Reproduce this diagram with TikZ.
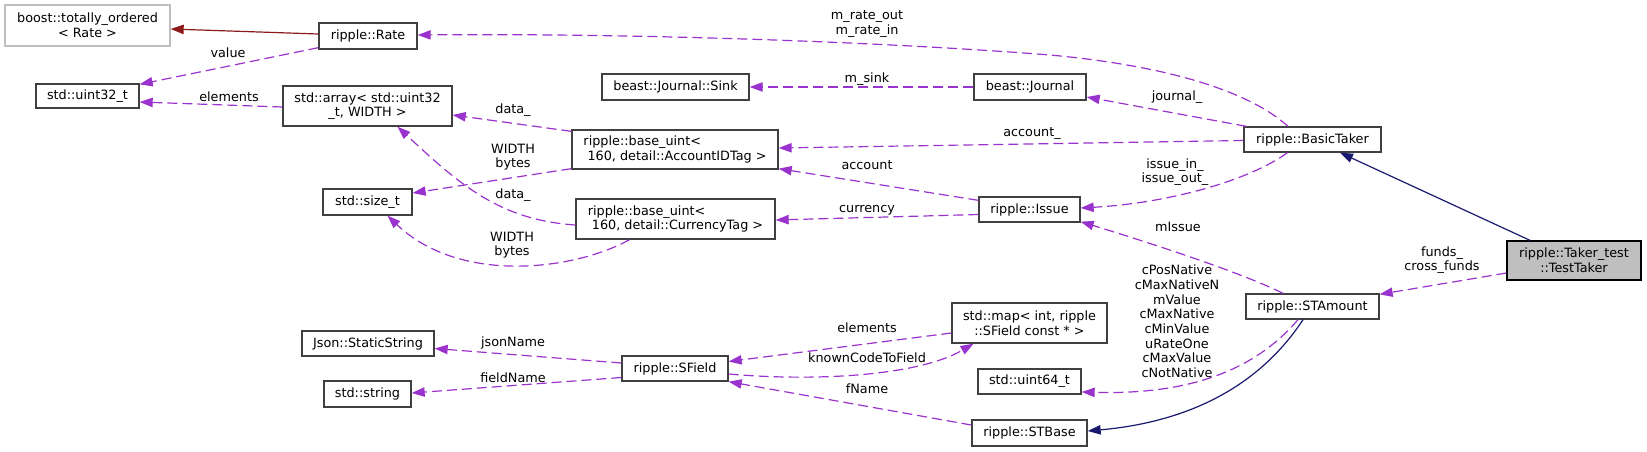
\documentclass[tikz,border=0pt]{standalone}
\usepackage{fontspec}
\setmainfont{DejaVu Sans}
\usetikzlibrary{arrows.meta,calc}
\definecolor{edgep}{HTML}{9A32CD}
\definecolor{navyc}{HTML}{191970}
\definecolor{redc}{HTML}{8B1A1A}
\definecolor{nodegray}{HTML}{404040}
\definecolor{lightb}{HTML}{BFBFBF}
\definecolor{fillsel}{HTML}{BFBFBF}
\newcommand\mybox[7][]{\node[box,#1,minimum width={(#4-#2)*0.75pt},minimum height={(#5-#3)*0.75pt}] (#6) at ({(#2+#4)/2},{(#3+#5)/2}) {#7};}
\begin{document}
\begin{tikzpicture}[x=0.75pt,y=-0.75pt,
  font=\fontsize{9.6}{11}\selectfont,
  box/.style={draw=nodegray, line width=1pt, fill=white, inner sep=0pt, align=center},
  tipA/.tip={Triangle[length=9.75pt,width=7pt]},
  mem/.style={draw=edgep, line width=0.9pt, dash pattern=on 7.5pt off 3.75pt, -{tipA[fill=edgep]}},
  inhn/.style={draw=navyc, line width=0.9pt, -{tipA[fill=navyc]}},
  inhr/.style={draw=redc, line width=0.9pt, -{tipA[fill=redc]}},
  lbl/.style={align=center, inner sep=0pt}]
\useasboundingbox (0,0) rectangle (1647,451);
% nodes
\mybox[draw=lightb]{5}{5}{170}{46}{boost}{boost::totally\_ordered\\< Rate >}
\mybox{319}{23}{417}{49}{Rate}{ripple::Rate}
\mybox{36}{84}{139}{108}{uintA}{std::uint32\_t}
\mybox{283}{86}{452}{126}{array}{std::array< std::uint32\\\_t, WIDTH >}
\mybox{602}{74}{749}{100}{Sink}{beast::Journal::Sink}
\mybox{974}{74}{1086}{100}{Journal}{beast::Journal}
\mybox[align=left]{572}{130}{778}{169}{AccountID}{ripple::base\_uint<\\\ 160, detail::AccountIDTag >}
\mybox{1244}{127}{1381}{152}{BasicTaker}{ripple::BasicTaker}
\mybox{323}{189}{412}{215}{sizet}{std::size\_t}
\mybox[align=left]{576}{199}{775}{239}{Currency}{ripple::base\_uint<\\\ 160, detail::CurrencyTag >}
\mybox{979}{197}{1080}{222}{Issue}{ripple::Issue}
\mybox[draw=black,fill=fillsel]{1507}{241}{1641}{280}{TestTaker}{ripple::Taker\_test\\::TestTaker}
\mybox{1246}{294}{1379}{319}{STAmount}{ripple::STAmount}
\mybox{952}{303}{1107}{343}{map}{std::map< int, ripple\\::SField const * >}
\mybox{302}{331}{434}{356}{Json}{Json::StaticString}
\mybox{622}{356}{728}{381}{SField}{ripple::SField}
\mybox{978}{369}{1081}{394}{uintB}{std::uint64\_t}
\mybox{324}{381}{411}{407}{string}{std::string}
\mybox{972}{420}{1087}{446}{STBase}{ripple::STBase}
% inheritance edges
\draw[inhr] ($(Rate.west)+(0,-2)$) -- ($(boost.east)+(0,3.5)$);
\draw[inhn] ($(TestTaker.north)+(-44,0)$) -- ($(BasicTaker.south)+(27.5,0)$);
\draw[inhn] ($(STAmount.south)+(-9.5,0)$) .. controls (1270,370) and (1210,420) .. ($(STBase.east)+(0,-2)$);
% member edges
\draw[mem] ($(BasicTaker.south)+(-25,0)$) .. controls (1250,180) and (1170,203) .. ($(Issue.east)+(0,-1.5)$);
\draw[mem] ($(BasicTaker.north)+(-24.5,0)$) .. controls (1250,92) and (1170,66) .. (1050,55) .. controls (900,43) and (650,33) .. ($(Rate.east)+(0,-1)$);
\draw[mem] ($(Rate.south west)+(0,-2)$) -- ($(uintA.north east)+(0,1)$);
\draw[mem] ($(array.west)+(0,1)$) -- ($(uintA.east)+(0,6)$);
\draw[mem] (Journal.west) -- (Sink.east);
\draw[mem] ($(BasicTaker.north west)+(3,0)$) -- ($(Journal.east)+(0,10)$);
\draw[mem] ($(BasicTaker.west)+(0,1)$) -- ($(AccountID.east)+(0,-1.5)$);
\draw[mem] ($(AccountID.north west)+(0,2)$) -- ($(array.east)+(0,9)$);
\draw[mem] ($(AccountID.south west)+(0,-1)$) -- ($(sizet.east)+(0,-9)$);
\draw[mem] ($(Currency.west)+(0,6)$) .. controls (500,220) and (460,185) .. ($(array.south)+(30,0)$);
\draw[mem] ($(Currency.south)+(-46,0)$) .. controls (575,270) and (460,285) .. ($(sizet.south)+(20,0)$);
\draw[mem] ($(Issue.north west)+(0,4)$) -- ($(AccountID.south east)+(0,-1)$);
\draw[mem] ($(Issue.west)+(0,5)$) -- ($(Currency.east)+(0,1)$);
\draw[mem] ($(STAmount.north)+(-29.5,0)$) .. controls (1240,272) and (1150,243) .. ($(Issue.south east)+(0,-1)$);
\draw[mem] ($(TestTaker.west)+(0,12.5)$) -- ($(STAmount.north east)+(0,1)$);
\draw[mem] ($(STAmount.south)+(-14.5,0)$) .. controls (1255,370) and (1190,395) .. ($(uintB.east)+(0,10.5)$);
\draw[mem] ($(map.west)+(0,10)$) -- ($(SField.east)+(0,-7)$);
\draw[mem] ($(SField.east)+(0,5.5)$) .. controls (820,382) and (920,375) .. ($(map.south)+(-56,0)$);
\draw[mem] ($(SField.west)+(0,-5.5)$) -- ($(Json.east)+(0,5)$);
\draw[mem] ($(SField.west)+(0,9)$) -- ($(string.east)+(0,-1)$);
\draw[mem] ($(STBase.west)+(0,-8)$) -- (SField.south east);
% labels
\node[lbl] (l1) at (867,24) {m\_rate\_out\\m\_rate\_in};
\node[lbl] (l2) at (228,53) {value};
\node[lbl] (l3) at (229,97) {elements};
\node[lbl] (l4) at (867,79) {m\_sink};
\node[lbl] (l5) at (1177,97) {journal\_};
\node[lbl] (l6) at (1032,134) {account\_};
\node[lbl] (l7) at (1175,172) {issue\_in\_\\issue\_out\_};
\node[lbl] (l8) at (513,110) {data\_};
\node[lbl] (l9) at (513,157) {WIDTH\\bytes};
\node[lbl] (l10) at (513,195) {data\_};
\node[lbl] (l11) at (512,245) {WIDTH\\bytes};
\node[lbl] (l12) at (867,165) {account};
\node[lbl] (l13) at (867,210) {currency};
\node[lbl] (l14) at (1178,227) {mIssue};
\node[lbl] (l15) at (1442,260) {funds\_\\cross\_funds};
\node[lbl] (l16) at (1177,321.5) {cPosNative\\cMaxNativeN\\mValue\\cMaxNative\\cMinValue\\uRateOne\\cMaxValue\\cNotNative};
\node[lbl] (l17) at (867,328) {elements};
\node[lbl] (l18) at (867,358) {knownCodeToField};
\node[lbl] (l19) at (513,343) {jsonName};
\node[lbl] (l20) at (513,378) {fieldName};
\node[lbl] (l21) at (867,389) {fName};
\end{tikzpicture}
\end{document}
